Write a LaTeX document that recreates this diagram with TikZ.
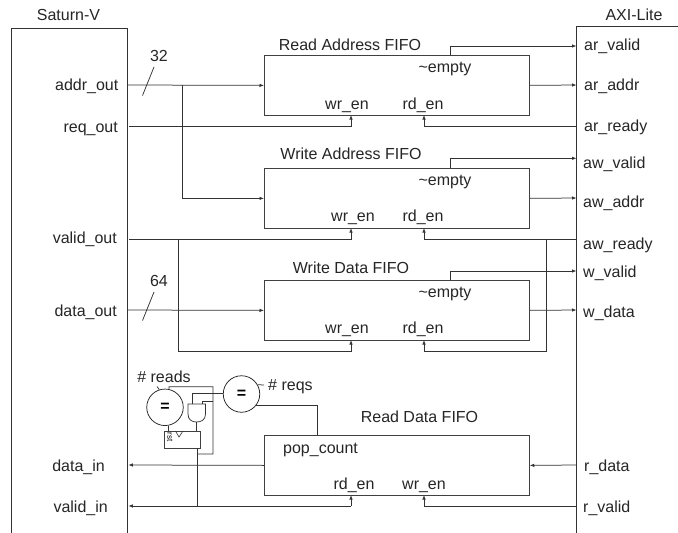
\documentclass[tikz,border=0pt]{standalone}
\usepackage{fontspec}
\setmainfont{Liberation Sans}
\usetikzlibrary{arrows.meta}
\tikzset{
  x=1pt,y=-1pt,
  wire/.style={draw=black!80,line width=0.75pt},
  arr/.style={wire,-{Latex[length=4.5pt,width=3.5pt]}},
  fifo/.style={draw=black!75,line width=0.75pt,minimum width=265pt,minimum height=60pt,inner sep=0pt,anchor=north west},
  lbl/.style={font=\fontsize{16}{18}\selectfont,inner sep=0pt,text=black!85,anchor=base},
  lblr/.style={lbl,anchor=base east},
  lbll/.style={lbl,anchor=base west},
  cmp/.style={draw=black!85,circle,line width=0.75pt,minimum size=36.5pt,inner sep=0pt,font=\fontsize{16}{18}\selectfont\bfseries},
}
\begin{document}
\begin{tikzpicture}
\useasboundingbox (0,0) rectangle (678,533);
\fill[white] (0,0) rectangle (678,533);
% the two outer blocks
\draw[wire] (11.5,533) -- (11.5,28.5) -- (127.5,28.5) -- (127.5,533);
\draw[wire] (576.5,533) -- (576.5,26.5) -- (678,26.5);
\node[lbl] (tsat) at (68.5,20) {Saturn-V};
\node[lbl] (taxi) at (634,20) {AXI-Lite};
% FIFOs
\node[fifo] (f1) at (264,55) {};
\node[fifo] (f2) at (264,168) {};
\node[fifo] (f3) at (264,280) {};
\node[fifo] (f4) at (264,435) {};
\node[lbl] (t1) at (350,50) {Read Address FIFO};
\node[lbl] (t2) at (351,159.5) {Write Address FIFO};
\node[lbl] (t3) at (351,273) {Write Data FIFO};
\node[lbl] (t4) at (419.5,422.5) {Read Data FIFO};
\node[lbl] (e1) at (445,72) {\textasciitilde empty};
\node[lbl] (e2) at (445,185) {\textasciitilde empty};
\node[lbl] (e3) at (445,297) {\textasciitilde empty};
\node[lbl] (w1) at (347,109) {wr\_en};
\node[lbl] (r1) at (423,109) {rd\_en};
\node[lbl] (w2) at (353,221) {wr\_en};
\node[lbl] (r2) at (423,221) {rd\_en};
\node[lbl] (w3) at (347,333) {wr\_en};
\node[lbl] (r3) at (423,333) {rd\_en};
\node[lbl] (r4) at (354,489) {rd\_en};
\node[lbl] (w4) at (424,489) {wr\_en};
\node[lbll] (pop) at (283,453) {pop\_count};
% left labels
\node[lblr] (la) at (118.5,90) {addr\_out};
\node[lblr] (lr) at (118,132) {req\_out};
\node[lblr] (lv) at (117,243.5) {valid\_out};
\node[lblr] (ld) at (117,316) {data\_out};
\node[lblr] (ldi) at (105,471) {data\_in};
\node[lblr] (lvi) at (108,512) {valid\_in};
\node[lbl] (n32) at (159,61) {32};
\node[lbl] (n64) at (159,286) {64};
% right labels
\node[lbll] (rarv) at (584,50) {ar\_valid};
\node[lbll] (rara) at (584,90) {ar\_addr};
\node[lbll] (rarr) at (584,131) {ar\_ready};
\node[lbll] (rawv) at (583,168) {aw\_valid};
\node[lbll] (rawa) at (583,207) {aw\_addr};
\node[lbll] (rawr) at (583,249) {aw\_ready};
\node[lbll] (rwv) at (583,277) {w\_valid};
\node[lbll] (rwd) at (583,317) {w\_data};
\node[lbll] (rrd) at (584,471) {r\_data};
\node[lbll] (rrv) at (583,512) {r\_valid};
% ports
\coordinate (sa) at (127.5,85);
\coordinate (sr) at (129,126.7);
\coordinate (sv) at (129,239);
\coordinate (sd) at (127.5,310);
\coordinate (sdi) at (128.3,465);
\coordinate (svi) at (128.3,506);
\coordinate (aarv) at (576.5,46);
\coordinate (aara) at (576.5,85);
\coordinate (aarr) at (576.5,126.7);
\coordinate (aawv) at (576.5,158.3);
\coordinate (aawa) at (576.5,198);
\coordinate (aawr) at (576.5,239);
\coordinate (awv) at (576.5,271);
\coordinate (awd) at (576.5,310);
\coordinate (ard) at (576.5,465);
\coordinate (arv) at (576.5,506);
\coordinate (f1w) at (351,115);
\coordinate (f1r) at (424,115);
\coordinate (f2w) at (351,228);
\coordinate (f2r) at (424,228);
\coordinate (f3w) at (351,340);
\coordinate (f3r) at (424,340);
\coordinate (f4r) at (351,495);
\coordinate (f4w) at (424,495);
\coordinate (f1e) at (450.5,55);
\coordinate (f2e) at (450.5,168);
\coordinate (f3e) at (450.5,280);
\coordinate (f4p) at (317,435);
\coordinate (j1) at (182,85);
\coordinate (j2) at (178.7,239);
\coordinate (j3) at (546,239);
\coordinate (b1) at (351,351.7);
\coordinate (b2) at (424,351.7);
\coordinate (j4) at (351,506);
\coordinate (tk1a) at (142.5,95.5);
\coordinate (tk1b) at (154,67);
\coordinate (tk2a) at (142.5,320.5);
\coordinate (tk2b) at (154,292);
% wires
\draw[arr] (sa) -- (f1.west);
\draw[wire] (tk1a) -- (tk1b);
\draw[arr] (j1) |- (f2.west);
\draw[arr] (sr) -| (f1w);
\draw[arr] (aarr) -| (f1r);
\draw[arr] (f1e) |- (aarv);
\draw[arr] (f1.east) -- (aara);
\draw[arr] (f2e) |- (aawv);
\draw[arr] (f2.east) -- (aawa);
\draw[arr] (sv) -| (f2w);
\draw[arr] (aawr) -| (f2r);
\draw[arr] (j2) |- (b1) -- (f3w);
\draw[arr] (j3) |- (b2) -- (f3r);
\draw[arr] (f3e) |- (awv);
\draw[arr] (f3.east) -- (awd);
\draw[arr] (sd) -- (f3.west);
\draw[wire] (tk2a) -- (tk2b);
\draw[arr] (f4.west) -- (sdi);
\draw[arr] (ard) -- (f4.east);
\draw[arr] (arv) -| (f4w);
\draw[arr] (j4) -- (svi);
\draw[arr] (j4) -- (f4r);
% pop-count comparison logic
\node[cmp] (c1) at (165,407.3) {=};
\node[cmp] (c2) at (241.5,394) {=};
\node[lbl] (nreads) at (164,382) {\# reads};
\node[lbll] (nreqs) at (268,390) {\# reqs};
\node[draw=black!75,line width=0.75pt,anchor=north west,minimum width=36.6pt,minimum height=16.7pt,inner sep=0pt] (reg) at (163.7,431) {};
\node[font=\fontsize{8}{8}\selectfont,rotate=-90,inner sep=0pt] (rst) at (170,436.8) {rst};
\coordinate (g1) at (188,404);
\coordinate (g2) at (205.5,404);
\coordinate (gout) at (196.7,422);
\coordinate (gi1) at (192.7,404);
\coordinate (gi2) at (202,404);
\coordinate (tra) at (175.5,431);
\coordinate (trb) at (179,437);
\coordinate (trc) at (183,431);
\coordinate (rj) at (197,447.7);
\coordinate (fb) at (197,454);
\coordinate (k1) at (213,386.7);
\coordinate (k2) at (213,401.7);
\coordinate (k3) at (213,454);
\coordinate (k4) at (169,386.7);
\coordinate (k5) at (192.7,393.5);
\coordinate (k6) at (202,401.7);
\coordinate (k7) at (157,386.5);
\coordinate (k8) at (264,385);
\coordinate (rt) at (168.5,431);
\coordinate (vb) at (197,506);
\draw[wire] (c1.78) -- (k4) -- (k1) -- (k3) -- (fb);
\draw[wire] (k7) -- (c1.108);
\draw[wire] (c2.30) -- (k8);
\draw[wire] (c2.-38) -| (f4p);
\draw[wire] (c2.west |- k5) -- (k5) -- (gi1);
\draw[wire] (gi2) -- (k6) -- (k2);
\draw[wire] (g1) -- (g2) -- (205.5,414) .. controls (205.5,420) and (201,422) .. (gout) .. controls (192,422) and (188,420) .. (188,414) -- cycle;
\draw[wire] (gout) -- (gout |- reg.north);
\draw[wire] (rt |- c1.south) -- (rt);
\draw[wire,line width=0.6pt] (tra) -- (trb) -- (trc);
\draw[wire] (rj) -- (vb);
\end{tikzpicture}
\end{document}
